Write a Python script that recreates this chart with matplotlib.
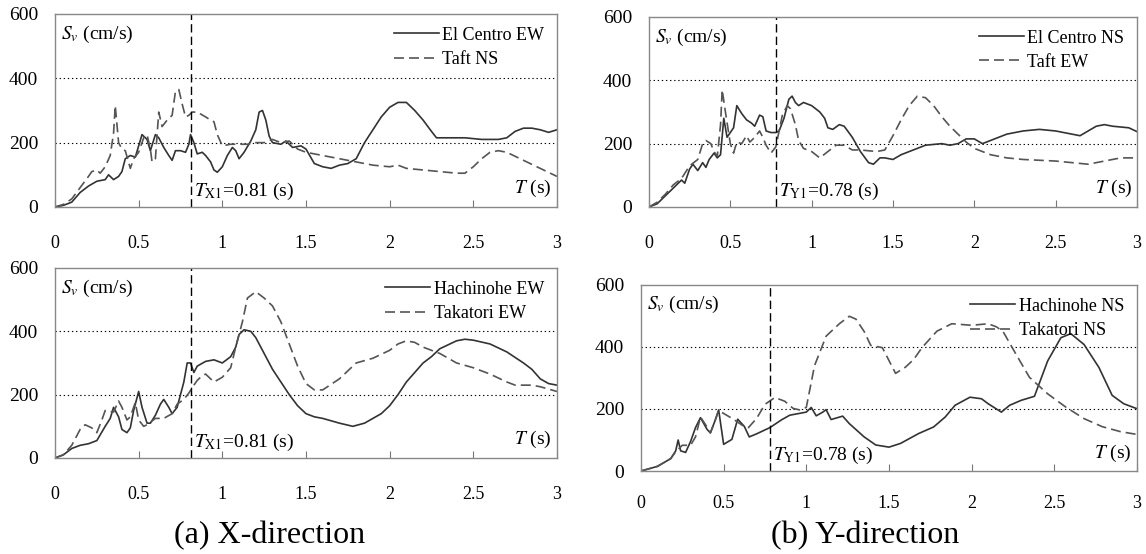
import numpy as np
import matplotlib
matplotlib.use("Agg")
import matplotlib.pyplot as plt

plt.rcParams['font.family'] = ['Liberation Serif', 'DejaVu Serif']
plt.rcParams['mathtext.fontset'] = 'stix'

# (a) X-direction, top: El Centro EW / Taft NS
t_elc_ew = [0, 0.05, 0.1, 0.15, 0.2, 0.25, 0.3, 0.32, 0.35, 0.38, 0.4, 0.42, 0.45, 0.48, 0.5, 0.52,
            0.55, 0.57, 0.6, 0.62, 0.65, 0.68, 0.7, 0.72, 0.75, 0.78, 0.8, 0.81, 0.83, 0.85, 0.88,
            0.9, 0.93, 0.95, 0.97, 1.0, 1.03, 1.06, 1.08, 1.1, 1.13, 1.17, 1.2, 1.22, 1.24, 1.26,
            1.28, 1.3, 1.35, 1.38, 1.42, 1.47, 1.5, 1.55, 1.6, 1.65, 1.7, 1.75, 1.8, 1.85, 1.9,
            1.95, 2.0, 2.05, 2.1, 2.15, 2.2, 2.25, 2.28, 2.35, 2.45, 2.55, 2.65, 2.7, 2.75, 2.8,
            2.85, 2.9, 2.95, 3.0]
sv_elc_ew = [0, 5, 15, 45, 65, 80, 85, 100, 85, 95, 110, 150, 160, 155, 190, 225,
             210, 175, 225, 215, 185, 160, 145, 175, 175, 170, 195, 225, 200, 165, 170,
             160, 140, 115, 108, 125, 160, 185, 175, 150, 170, 205, 240, 295, 300, 270,
             220, 200, 195, 205, 185, 190, 180, 135, 125, 120, 130, 135, 150, 200, 240,
             280, 310, 325, 325, 300, 270, 235, 215, 215, 215, 210, 210, 215, 235, 245,
             245, 240, 232, 240]
t_taft_ns = [0, 0.05, 0.1, 0.15, 0.2, 0.22, 0.25, 0.27, 0.3, 0.33, 0.35, 0.36, 0.38, 0.4, 0.42,
             0.45, 0.47, 0.5, 0.53, 0.55, 0.57, 0.58, 0.6, 0.62, 0.64, 0.67, 0.7, 0.72, 0.74,
             0.76, 0.78, 0.8, 0.82, 0.85, 0.9, 0.93, 0.95, 0.97, 1.0, 1.05, 1.1, 1.15, 1.2, 1.25,
             1.3, 1.35, 1.4, 1.45, 1.5, 1.6, 1.7, 1.8, 1.9, 2.0, 2.05, 2.1, 2.2, 2.3, 2.4, 2.45,
             2.5, 2.55, 2.6, 2.65, 2.7, 2.8, 2.9, 3.0]
sv_taft_ns = [0, 8, 25, 60, 95, 110, 115, 105, 125, 160, 230, 315, 200, 180, 175,
              120, 150, 170, 215, 225, 180, 140, 150, 295, 250, 270, 285, 360, 365,
              320, 280, 285, 295, 295, 280, 270, 265, 225, 190, 195, 195, 195, 200, 200,
              210, 200, 205, 180, 170, 160, 150, 140, 130, 125, 130, 120, 115, 110, 105, 105,
              125, 150, 170, 175, 170, 145, 120, 95]

# (b) Y-direction, top: El Centro NS / Taft EW
t_elc_ns = [0, 0.05, 0.1, 0.15, 0.2, 0.22, 0.25, 0.27, 0.3, 0.33, 0.35, 0.37, 0.4, 0.42, 0.44,
            0.46, 0.48, 0.5, 0.52, 0.54, 0.57, 0.6, 0.63, 0.65, 0.68, 0.7, 0.72, 0.75, 0.78,
            0.8, 0.83, 0.86, 0.88, 0.9, 0.92, 0.95, 1.0, 1.05, 1.08, 1.1, 1.13, 1.17, 1.2, 1.25,
            1.3, 1.35, 1.38, 1.42, 1.45, 1.5, 1.55, 1.6, 1.7, 1.8, 1.85, 1.9, 1.95, 2.0, 2.05,
            2.1, 2.2, 2.3, 2.4, 2.5, 2.6, 2.65, 2.7, 2.75, 2.8, 2.85, 2.95, 3.0]
sv_elc_ns = [0, 10, 35, 60, 85, 75, 120, 135, 115, 140, 125, 150, 170, 155, 165,
             280, 220, 235, 250, 320, 295, 275, 265, 255, 290, 285, 240, 235, 235,
             240, 280, 340, 350, 330, 320, 330, 320, 300, 280, 250, 245, 260, 255, 220,
             175, 140, 135, 155, 155, 150, 165, 175, 195, 200, 195, 200, 215, 215, 200,
             210, 230, 240, 245, 240, 230, 225, 240, 255, 260, 255, 250, 238]
t_taft_ew = [0, 0.05, 0.1, 0.15, 0.2, 0.25, 0.3, 0.33, 0.35, 0.38, 0.4, 0.42, 0.44, 0.45, 0.47,
             0.5, 0.52, 0.54, 0.57, 0.6, 0.62, 0.65, 0.68, 0.7, 0.72, 0.75, 0.78, 0.8, 0.82,
             0.85, 0.87, 0.9, 0.92, 0.95, 1.0, 1.05, 1.1, 1.15, 1.2, 1.25, 1.3, 1.4, 1.45, 1.5,
             1.55, 1.6, 1.65, 1.7, 1.75, 1.8, 1.85, 1.9, 1.95, 2.0, 2.05, 2.1, 2.2, 2.3, 2.5,
             2.7, 2.8, 2.9, 3.0]
sv_taft_ew = [0, 15, 40, 70, 90, 130, 150, 200, 210, 200, 175, 160, 260, 370, 300,
              200, 170, 205, 200, 225, 205, 220, 240, 220, 195, 170, 190, 240, 290,
              320, 310, 260, 210, 185, 175, 155, 175, 195, 195, 180, 180, 175, 180, 225,
              275, 320, 350, 345, 320, 285, 255, 230, 205, 185, 175, 165, 155, 150, 145,
              135, 145, 155, 155]

# (a) X-direction, bottom: Hachinohe EW / Takatori EW
t_hach_ew = [0, 0.05, 0.1, 0.15, 0.2, 0.25, 0.3, 0.33, 0.35, 0.38, 0.4, 0.43, 0.45, 0.47, 0.5,
             0.52, 0.55, 0.57, 0.6, 0.63, 0.65, 0.68, 0.7, 0.73, 0.75, 0.77, 0.79, 0.81, 0.83,
             0.85, 0.9, 0.95, 1.0, 1.05, 1.08, 1.1, 1.13, 1.17, 1.2, 1.25, 1.3, 1.35, 1.4, 1.45,
             1.5, 1.55, 1.6, 1.7, 1.78, 1.85, 1.9, 1.95, 2.0, 2.05, 2.1, 2.15, 2.2, 2.25, 2.3,
             2.4, 2.45, 2.5, 2.6, 2.7, 2.8, 2.85, 2.9, 2.95, 3.0]
sv_hach_ew = [0, 10, 30, 40, 45, 55, 100, 125, 160, 130, 90, 80, 95, 150, 210,
              160, 110, 110, 135, 170, 185, 160, 140, 160, 200, 240, 300, 300, 270,
              290, 305, 310, 300, 320, 350, 390, 405, 400, 380, 330, 280, 240, 200, 165,
              140, 130, 125, 110, 100, 110, 125, 140, 165, 200, 240, 270, 300, 320, 345,
              370, 375, 372, 360, 335, 300, 280, 250, 235, 230]
t_taka_ew = [0, 0.05, 0.1, 0.15, 0.18, 0.2, 0.22, 0.25, 0.28, 0.3, 0.35, 0.38, 0.4, 0.43, 0.45,
             0.48, 0.5, 0.53, 0.55, 0.6, 0.65, 0.7, 0.73, 0.77, 0.8, 0.83, 0.85, 0.88, 0.9,
             0.95, 1.0, 1.05, 1.08, 1.12, 1.15, 1.2, 1.25, 1.3, 1.35, 1.4, 1.45, 1.5, 1.55, 1.6,
             1.7, 1.8, 1.9, 2.0, 2.05, 2.1, 2.15, 2.2, 2.3, 2.4, 2.5, 2.6, 2.7, 2.75, 2.85, 2.9,
             3.0]
sv_taka_ew = [0, 10, 40, 90, 105, 100, 95, 80, 120, 150, 145, 180, 160, 120, 130,
              175, 120, 100, 105, 125, 125, 140, 170, 185, 205, 230, 245, 260, 265,
              240, 255, 285, 350, 430, 505, 525, 505, 480, 430, 360, 290, 235, 215, 215,
              250, 300, 315, 340, 360, 370, 365, 350, 330, 300, 285, 265, 240, 230, 230, 225,
              210]

# (b) Y-direction, bottom: Hachinohe NS / Takatori NS
t_hach_ns = [0, 0.1, 0.18, 0.21, 0.225, 0.24, 0.27, 0.3, 0.33, 0.36, 0.4, 0.42, 0.45, 0.47,
             0.5, 0.55, 0.585, 0.625, 0.655, 0.7, 0.78, 0.85, 0.9, 0.95, 1.0, 1.03, 1.06, 1.1,
             1.12, 1.15, 1.22, 1.26, 1.35, 1.42, 1.5, 1.57, 1.68, 1.77, 1.84, 1.9, 1.99, 2.06,
             2.1, 2.18, 2.23, 2.3, 2.38, 2.46, 2.54, 2.6, 2.68, 2.77, 2.85, 2.92, 3.0]
sv_hach_ns = [0, 15, 40, 65, 100, 65, 60, 95, 140, 172, 134, 123, 165, 197,
              86, 102, 167, 144, 110, 120, 140, 165, 180, 185, 190, 205, 178, 190,
              198, 166, 177, 153, 110, 84, 77, 89, 121, 142, 174, 212, 238, 233,
              217, 190, 212, 228, 241, 355, 430, 443, 408, 334, 244, 217, 201]
t_taka_ns = [0, 0.1, 0.18, 0.21, 0.25, 0.3, 0.33, 0.36, 0.39, 0.42, 0.45, 0.47, 0.55, 0.62,
             0.65, 0.7, 0.75, 0.81, 0.87, 0.92, 0.96, 1.0, 1.05, 1.12, 1.2, 1.26, 1.3, 1.35,
             1.39, 1.46, 1.54, 1.6, 1.65, 1.7, 1.79, 1.88, 2.0, 2.1, 2.15, 2.19, 2.28, 2.35,
             2.46, 2.57, 2.68, 2.79, 2.9, 3.0]
sv_taka_ns = [0, 15, 40, 62, 83, 83, 110, 174, 150, 123, 165, 195, 170, 145,
              140, 170, 215, 237, 225, 202, 197, 205, 340, 435, 475, 499, 490, 450,
              405, 398, 315, 335, 360, 398, 451, 475, 470, 475, 465, 450, 366, 302,
              249, 206, 169, 143, 127, 118]

xticks = [0, 0.5, 1, 1.5, 2, 2.5, 3]
xticklabels = ['0', '0.5', '1', '1.5', '2', '2.5', '3']
yticks = [0, 200, 400, 600]

fig = plt.figure(figsize=(11.46, 5.54), dpi=100)


def panel(rect, t1, s1, lab1, t2, s2, lab2, tcut, tname, xpad=20):
    ax = fig.add_axes(rect)
    ax.plot(t1, s1, color='#333333', lw=1.2, label=lab1)
    ax.plot(t2, s2, color='#555555', lw=1.2, dashes=(6, 3), label=lab2)
    for g in [200, 400]:
        ax.axhline(g, color='black', lw=0.8, dashes=(1.2, 2.5), zorder=0)
    ax.axvline(tcut, color='black', lw=1.0, dashes=(6, 3))
    ax.set_xlim(0, 3)
    ax.set_ylim(0, 600)
    ax.set_xticks(xticks)
    ax.set_xticklabels(xticklabels, fontsize=13)
    ax.set_yticks(yticks)
    ax.set_yticklabels([str(v) for v in yticks], fontsize=14)
    ax.tick_params(axis='x', direction='in', length=5, pad=xpad, color='#777777')
    ax.tick_params(axis='y', length=0, pad=12)
    for s in ax.spines.values():
        s.set_color('#888888')
        s.set_linewidth(1.0)
    ax.text(0.012, 0.95, r'$S_v$ (cm/s)', transform=ax.transAxes, fontsize=14, va='top')
    ax.text(tcut + 0.02, 15, r'$T_{\mathrm{%s}}$=%.2f (s)' % (tname, tcut), fontsize=14,
            va='bottom')
    ax.text(0.99, 0.04, r'$T$ (s)', transform=ax.transAxes, fontsize=14, ha='right',
            va='bottom')
    ax.legend(loc='upper right', frameon=False, fontsize=13, handlelength=2.5,
              handletextpad=0.2, labelspacing=0.4, borderaxespad=0.3)
    return ax


panel([0.0480, 0.6264, 0.4380, 0.3484], t_elc_ew, sv_elc_ew, 'El Centro EW',
      t_taft_ns, sv_taft_ns, 'Taft NS', 0.81, 'X1')
panel([0.5663, 0.6264, 0.4258, 0.3430], t_elc_ns, sv_elc_ns, 'El Centro NS',
      t_taft_ew, sv_taft_ew, 'Taft EW', 0.78, 'Y1')
panel([0.0480, 0.1733, 0.4380, 0.3430], t_hach_ew, sv_hach_ew, 'Hachinohe EW',
      t_taka_ew, sv_taka_ew, 'Takatori EW', 0.81, 'X1')
panel([0.5593, 0.1498, 0.4328, 0.3358], t_hach_ns, sv_hach_ns, 'Hachinohe NS',
      t_taka_ns, sv_taka_ns, 'Takatori NS', 0.78, 'Y1', xpad=17)

fig.text(0.2356, 0.034, '(a) X-direction', fontsize=23, ha='center', va='center')
fig.text(0.7548, 0.034, '(b) Y-direction', fontsize=23, ha='center', va='center')

fig.savefig('out.png', dpi=100)
